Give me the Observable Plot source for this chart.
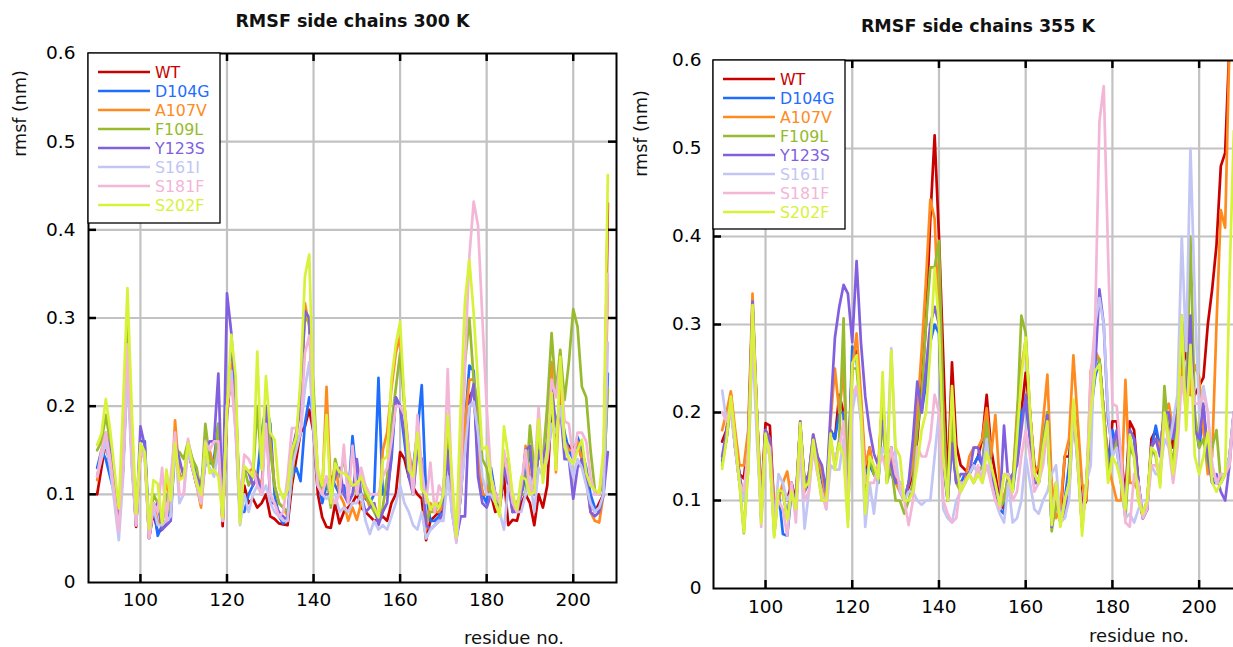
<!DOCTYPE html>
<html><head><meta charset="utf-8">
<script src="https://cdn.jsdelivr.net/npm/d3@7"></script>
<script src="https://cdn.jsdelivr.net/npm/@observablehq/plot@0.6"></script>
<style>
html,body{margin:0;padding:0;background:#fff;overflow:hidden;width:1233px;height:647px;}
#wrap{position:relative;width:1233px;height:647px;overflow:hidden;font-family:"DejaVu Sans",sans-serif;}
#wrap svg{position:absolute;top:0;overflow:visible;}
</style></head><body><div id="wrap"></div>
<script>
const seriesNames = ["WT","D104G","A107V","F109L","Y123S","S161I","S181F","S202F"];
const seriesColors = ["#c90000","#1f6dff","#ff8b1f","#97ba2e","#815fdf","#c3c6f4","#f3b6d7","#d8f23a"];
const firstResidue = 90;
const xTicks = [100,120,140,160,180,200];
const yTicks = [0,0.1,0.2,0.3,0.4,0.5,0.6];
const titles = ["RMSF side chains 300 K","RMSF side chains 355 K"];
const xLabel = "residue no.";
const yLabel = "rmsf (nm)";

// ---------- 300 K (residues 90..208) ----------
const wt300 = [
0.10,0.13,0.16,0.13,0.10,0.07,0.13,0.26,0.14,0.063,
0.15,0.15,0.05,0.08,0.057,0.06,0.07,0.10,0.16,0.12,
0.12,0.15,0.13,0.11,0.10,0.15,0.14,0.14,0.16,0.064,
0.19,0.24,0.18,0.075,0.11,0.09,0.095,0.085,0.09,0.10,
0.075,0.072,0.067,0.066,0.065,0.11,0.14,0.17,0.177,0.196,
0.17,0.10,0.074,0.063,0.062,0.09,0.067,0.08,0.085,0.09,
0.10,0.085,0.08,0.075,0.07,0.071,0.075,0.07,0.09,0.10,
0.148,0.14,0.12,0.108,0.10,0.095,0.048,0.07,0.075,0.08,
0.08,0.18,0.09,0.05,0.10,0.16,0.21,0.22,0.14,0.10,
0.10,0.10,0.08,0.085,0.12,0.065,0.071,0.07,0.09,0.10,
0.09,0.065,0.10,0.085,0.11,0.20,0.15,0.22,0.16,0.155,
0.15,0.16,0.14,0.12,0.09,0.08,0.09,0.10,0.43];
const d104g300 = [
0.13,0.15,0.14,0.12,0.10,0.07,0.15,0.30,0.16,0.065,
0.16,0.16,0.06,0.09,0.053,0.065,0.07,0.09,0.15,0.12,
0.12,0.15,0.14,0.12,0.10,0.135,0.135,0.14,0.18,0.075,
0.20,0.26,0.21,0.08,0.08,0.10,0.11,0.12,0.17,0.20,
0.18,0.10,0.075,0.067,0.075,0.12,0.13,0.115,0.18,0.21,
0.19,0.12,0.09,0.11,0.12,0.11,0.10,0.11,0.095,0.166,
0.115,0.10,0.095,0.09,0.10,0.232,0.10,0.10,0.14,0.21,
0.20,0.16,0.12,0.13,0.17,0.224,0.10,0.07,0.07,0.075,
0.10,0.19,0.10,0.05,0.10,0.18,0.246,0.24,0.15,0.10,
0.09,0.13,0.10,0.09,0.13,0.12,0.08,0.09,0.10,0.12,
0.15,0.10,0.15,0.13,0.15,0.20,0.17,0.20,0.17,0.15,
0.14,0.165,0.15,0.13,0.10,0.085,0.08,0.10,0.237];
const a107v300 = [
0.116,0.15,0.17,0.14,0.10,0.07,0.14,0.29,0.15,0.065,
0.155,0.15,0.05,0.09,0.07,0.065,0.12,0.085,0.184,0.12,
0.12,0.15,0.13,0.11,0.085,0.14,0.15,0.13,0.17,0.07,
0.20,0.25,0.20,0.085,0.13,0.125,0.13,0.12,0.11,0.19,
0.16,0.11,0.09,0.085,0.075,0.12,0.17,0.20,0.317,0.29,
0.20,0.11,0.10,0.222,0.10,0.137,0.10,0.09,0.07,0.085,
0.071,0.09,0.10,0.085,0.09,0.07,0.15,0.17,0.22,0.26,
0.279,0.20,0.15,0.12,0.17,0.13,0.06,0.09,0.08,0.08,
0.09,0.19,0.10,0.05,0.10,0.18,0.23,0.23,0.15,0.10,
0.10,0.12,0.10,0.09,0.13,0.12,0.08,0.09,0.10,0.155,
0.12,0.10,0.15,0.14,0.16,0.25,0.125,0.23,0.16,0.15,
0.15,0.16,0.14,0.12,0.08,0.07,0.068,0.10,0.34];
const f109l300 = [
0.15,0.16,0.19,0.16,0.11,0.07,0.15,0.30,0.16,0.07,
0.15,0.15,0.055,0.10,0.09,0.065,0.10,0.08,0.15,0.148,
0.14,0.16,0.14,0.13,0.10,0.18,0.14,0.13,0.18,0.07,
0.21,0.24,0.19,0.08,0.13,0.11,0.12,0.20,0.13,0.20,
0.15,0.11,0.09,0.085,0.08,0.12,0.16,0.22,0.30,0.295,
0.22,0.12,0.10,0.12,0.085,0.14,0.12,0.14,0.11,0.11,
0.10,0.12,0.10,0.09,0.08,0.07,0.085,0.12,0.18,0.22,
0.26,0.20,0.13,0.10,0.16,0.12,0.07,0.08,0.08,0.09,
0.09,0.19,0.10,0.05,0.13,0.25,0.30,0.23,0.20,0.14,
0.13,0.10,0.10,0.085,0.14,0.14,0.09,0.085,0.10,0.10,
0.178,0.13,0.16,0.14,0.20,0.283,0.215,0.264,0.207,0.25,
0.31,0.29,0.222,0.21,0.15,0.105,0.10,0.113,0.22];
const y123s300 = [
0.12,0.143,0.169,0.15,0.11,0.065,0.13,0.25,0.17,0.065,
0.177,0.155,0.05,0.085,0.09,0.06,0.065,0.07,0.16,0.14,
0.12,0.15,0.13,0.12,0.11,0.15,0.16,0.16,0.237,0.08,
0.328,0.283,0.20,0.08,0.13,0.125,0.11,0.12,0.10,0.20,
0.09,0.09,0.08,0.075,0.07,0.15,0.17,0.20,0.308,0.30,
0.18,0.11,0.10,0.10,0.10,0.12,0.13,0.10,0.09,0.10,
0.14,0.10,0.08,0.085,0.09,0.065,0.08,0.09,0.15,0.21,
0.20,0.17,0.12,0.10,0.15,0.14,0.065,0.06,0.065,0.07,
0.08,0.15,0.08,0.05,0.075,0.075,0.20,0.225,0.12,0.09,
0.085,0.10,0.09,0.085,0.13,0.11,0.08,0.08,0.10,0.15,
0.155,0.10,0.15,0.14,0.16,0.22,0.18,0.20,0.14,0.14,
0.095,0.13,0.14,0.12,0.08,0.075,0.08,0.10,0.148];
const s161i300 = [
0.12,0.14,0.16,0.13,0.09,0.048,0.12,0.24,0.13,0.065,
0.15,0.145,0.05,0.085,0.065,0.065,0.07,0.075,0.16,0.09,
0.10,0.15,0.13,0.11,0.09,0.14,0.13,0.12,0.15,0.07,
0.20,0.24,0.17,0.065,0.10,0.08,0.10,0.11,0.10,0.11,
0.09,0.08,0.075,0.07,0.07,0.13,0.15,0.17,0.22,0.25,
0.17,0.11,0.10,0.095,0.10,0.10,0.08,0.085,0.08,0.09,
0.09,0.10,0.07,0.055,0.07,0.06,0.065,0.06,0.075,0.09,
0.11,0.09,0.08,0.065,0.06,0.08,0.05,0.06,0.065,0.07,
0.07,0.12,0.08,0.045,0.10,0.15,0.20,0.205,0.17,0.12,
0.10,0.10,0.09,0.08,0.06,0.11,0.10,0.08,0.08,0.10,
0.12,0.08,0.13,0.12,0.14,0.18,0.17,0.20,0.16,0.14,
0.12,0.14,0.13,0.11,0.09,0.08,0.085,0.10,0.272];
const s181f300 = [
0.12,0.15,0.17,0.14,0.10,0.058,0.14,0.27,0.15,0.065,
0.15,0.14,0.05,0.09,0.08,0.13,0.07,0.12,0.17,0.10,
0.10,0.163,0.13,0.115,0.09,0.16,0.15,0.16,0.16,0.07,
0.20,0.23,0.17,0.09,0.145,0.14,0.13,0.11,0.10,0.18,
0.10,0.09,0.075,0.08,0.12,0.175,0.175,0.17,0.26,0.28,
0.20,0.11,0.10,0.12,0.10,0.09,0.10,0.156,0.09,0.155,
0.10,0.13,0.11,0.10,0.10,0.10,0.12,0.13,0.16,0.20,
0.20,0.19,0.15,0.10,0.19,0.13,0.09,0.136,0.08,0.11,
0.10,0.242,0.10,0.047,0.12,0.25,0.37,0.432,0.405,0.30,
0.20,0.12,0.10,0.09,0.15,0.12,0.09,0.08,0.11,0.15,
0.10,0.12,0.198,0.12,0.15,0.23,0.21,0.25,0.183,0.18,
0.14,0.17,0.17,0.16,0.12,0.10,0.10,0.14,0.35];
const s202f300 = [
0.156,0.169,0.208,0.173,0.128,0.084,0.203,0.334,0.196,0.078,
0.158,0.148,0.061,0.116,0.112,0.067,0.128,0.093,0.158,0.116,
0.12,0.158,0.135,0.112,0.10,0.158,0.124,0.128,0.12,0.074,
0.196,0.281,0.234,0.067,0.132,0.126,0.12,0.262,0.128,0.234,
0.17,0.162,0.108,0.095,0.105,0.15,0.165,0.23,0.347,0.372,
0.196,0.128,0.11,0.19,0.09,0.135,0.125,0.124,0.12,0.11,
0.112,0.12,0.105,0.095,0.085,0.074,0.139,0.143,0.23,0.27,
0.296,0.203,0.128,0.12,0.17,0.105,0.10,0.083,0.09,0.085,
0.10,0.19,0.12,0.052,0.20,0.32,0.366,0.305,0.226,0.151,
0.154,0.12,0.09,0.075,0.177,0.143,0.10,0.083,0.12,0.117,
0.10,0.102,0.185,0.113,0.15,0.215,0.128,0.256,0.154,0.14,
0.135,0.15,0.162,0.124,0.11,0.105,0.102,0.151,0.462];

// ---------- 355 K (residues 90..208) ----------
const wt355 = [
0.167,0.18,0.22,0.17,0.13,0.125,0.17,0.32,0.20,0.10,
0.188,0.185,0.09,0.11,0.11,0.10,0.12,0.10,0.185,0.12,
0.13,0.17,0.14,0.13,0.10,0.18,0.17,0.22,0.20,0.12,
0.26,0.27,0.21,0.13,0.16,0.13,0.13,0.22,0.13,0.16,
0.125,0.11,0.10,0.115,0.13,0.17,0.23,0.30,0.42,0.515,
0.40,0.26,0.115,0.257,0.163,0.14,0.135,0.13,0.14,0.15,
0.17,0.22,0.16,0.13,0.10,0.09,0.13,0.12,0.16,0.20,
0.245,0.20,0.14,0.13,0.16,0.20,0.08,0.10,0.08,0.15,
0.15,0.20,0.18,0.09,0.10,0.22,0.26,0.26,0.20,0.14,
0.19,0.19,0.15,0.105,0.19,0.18,0.12,0.08,0.09,0.17,
0.18,0.16,0.20,0.20,0.16,0.20,0.25,0.27,0.22,0.22,
0.23,0.24,0.30,0.34,0.39,0.48,0.495,0.62,0.70];
const d104g355 = [
0.145,0.17,0.21,0.16,0.12,0.10,0.15,0.30,0.19,0.08,
0.18,0.165,0.075,0.11,0.062,0.06,0.11,0.10,0.185,0.11,
0.12,0.17,0.14,0.12,0.10,0.18,0.17,0.20,0.20,0.12,
0.275,0.26,0.20,0.13,0.14,0.13,0.12,0.20,0.13,0.13,
0.12,0.12,0.10,0.12,0.14,0.20,0.20,0.233,0.28,0.30,
0.29,0.14,0.10,0.165,0.12,0.12,0.13,0.13,0.14,0.15,
0.14,0.19,0.13,0.11,0.09,0.085,0.13,0.11,0.15,0.20,
0.21,0.17,0.12,0.12,0.16,0.19,0.07,0.10,0.075,0.10,
0.14,0.20,0.15,0.08,0.12,0.20,0.24,0.26,0.20,0.14,
0.18,0.16,0.12,0.09,0.18,0.17,0.12,0.08,0.09,0.16,
0.185,0.16,0.19,0.20,0.17,0.20,0.28,0.20,0.27,0.19,
0.16,0.20,0.16,0.12,0.12,0.12,0.13,0.15,0.20];
const a107v355 = [
0.18,0.20,0.224,0.18,0.14,0.14,0.18,0.335,0.20,0.10,
0.18,0.17,0.09,0.10,0.12,0.133,0.10,0.10,0.19,0.11,
0.13,0.175,0.15,0.13,0.10,0.19,0.25,0.20,0.25,0.12,
0.25,0.29,0.22,0.14,0.16,0.13,0.14,0.22,0.14,0.15,
0.12,0.11,0.10,0.12,0.14,0.20,0.27,0.35,0.442,0.42,
0.30,0.20,0.10,0.20,0.12,0.12,0.12,0.15,0.16,0.16,
0.17,0.205,0.15,0.197,0.12,0.10,0.13,0.12,0.20,0.25,
0.283,0.20,0.13,0.14,0.19,0.243,0.12,0.08,0.09,0.15,
0.17,0.265,0.19,0.12,0.10,0.247,0.27,0.26,0.20,0.14,
0.12,0.10,0.10,0.237,0.12,0.12,0.11,0.08,0.10,0.16,
0.17,0.16,0.20,0.21,0.18,0.20,0.24,0.30,0.22,0.254,
0.24,0.18,0.13,0.15,0.30,0.43,0.41,0.62,0.66];
const f109l355 = [
0.14,0.17,0.21,0.16,0.12,0.063,0.14,0.31,0.20,0.08,
0.17,0.15,0.06,0.11,0.11,0.08,0.11,0.09,0.18,0.12,
0.12,0.17,0.135,0.10,0.10,0.17,0.14,0.17,0.307,0.08,
0.25,0.25,0.20,0.10,0.15,0.13,0.12,0.20,0.12,0.14,
0.10,0.10,0.085,0.10,0.12,0.18,0.22,0.30,0.365,0.365,
0.395,0.20,0.10,0.19,0.12,0.11,0.12,0.13,0.12,0.13,
0.14,0.19,0.13,0.11,0.09,0.10,0.13,0.12,0.19,0.31,
0.29,0.20,0.13,0.12,0.17,0.20,0.065,0.10,0.075,0.09,
0.12,0.20,0.14,0.07,0.12,0.21,0.26,0.26,0.20,0.13,
0.15,0.17,0.12,0.08,0.16,0.15,0.10,0.085,0.10,0.16,
0.15,0.12,0.23,0.17,0.14,0.20,0.30,0.20,0.40,0.20,
0.16,0.17,0.14,0.16,0.18,0.12,0.13,0.15,0.20];
const y123s355 = [
0.15,0.18,0.21,0.16,0.13,0.10,0.16,0.326,0.20,0.085,
0.18,0.17,0.07,0.11,0.11,0.08,0.12,0.09,0.19,0.12,
0.13,0.175,0.15,0.14,0.11,0.20,0.285,0.32,0.345,0.335,
0.28,0.372,0.28,0.218,0.18,0.153,0.14,0.19,0.16,0.14,
0.12,0.12,0.10,0.12,0.17,0.235,0.20,0.25,0.30,0.32,
0.30,0.15,0.10,0.165,0.12,0.13,0.13,0.13,0.16,0.16,
0.14,0.17,0.13,0.11,0.09,0.185,0.12,0.13,0.14,0.18,
0.22,0.17,0.12,0.12,0.16,0.197,0.07,0.12,0.08,0.08,
0.11,0.20,0.15,0.07,0.12,0.20,0.25,0.34,0.30,0.19,
0.16,0.18,0.14,0.09,0.18,0.17,0.12,0.08,0.09,0.16,
0.17,0.15,0.20,0.20,0.17,0.20,0.31,0.20,0.31,0.18,
0.17,0.21,0.15,0.12,0.13,0.11,0.10,0.14,0.20];
const s161i355 = [
0.225,0.19,0.20,0.16,0.12,0.10,0.13,0.28,0.17,0.085,
0.17,0.15,0.07,0.13,0.12,0.10,0.11,0.09,0.16,0.068,
0.11,0.16,0.13,0.11,0.09,0.14,0.135,0.135,0.17,0.09,
0.20,0.23,0.19,0.07,0.12,0.085,0.13,0.16,0.15,0.273,
0.15,0.11,0.10,0.11,0.11,0.10,0.095,0.10,0.10,0.15,
0.20,0.09,0.08,0.075,0.10,0.11,0.12,0.13,0.14,0.13,
0.13,0.17,0.12,0.10,0.085,0.075,0.12,0.075,0.08,0.10,
0.15,0.12,0.09,0.085,0.10,0.11,0.13,0.14,0.075,0.08,
0.10,0.20,0.15,0.07,0.12,0.14,0.30,0.33,0.30,0.20,
0.15,0.16,0.12,0.08,0.085,0.075,0.09,0.10,0.10,0.14,
0.13,0.13,0.17,0.16,0.19,0.22,0.40,0.27,0.50,0.33,
0.20,0.23,0.20,0.14,0.12,0.12,0.13,0.15,0.20];
const s181f355 = [
0.20,0.19,0.21,0.16,0.12,0.11,0.16,0.30,0.19,0.07,
0.17,0.16,0.075,0.10,0.09,0.06,0.12,0.075,0.17,0.10,
0.11,0.16,0.13,0.11,0.09,0.16,0.15,0.16,0.19,0.077,
0.22,0.23,0.20,0.12,0.12,0.12,0.14,0.15,0.13,0.16,
0.13,0.12,0.10,0.072,0.10,0.161,0.15,0.15,0.17,0.22,
0.20,0.10,0.085,0.075,0.08,0.12,0.12,0.13,0.12,0.14,
0.12,0.14,0.12,0.10,0.09,0.13,0.13,0.10,0.11,0.15,
0.18,0.15,0.11,0.12,0.14,0.18,0.09,0.11,0.075,0.10,
0.12,0.21,0.14,0.08,0.12,0.24,0.30,0.53,0.571,0.38,
0.21,0.207,0.15,0.075,0.07,0.13,0.12,0.08,0.09,0.14,
0.14,0.13,0.20,0.16,0.12,0.16,0.24,0.20,0.26,0.21,
0.21,0.22,0.20,0.14,0.12,0.13,0.13,0.14,0.20];
const s202f355 = [
0.136,0.17,0.218,0.17,0.12,0.064,0.135,0.322,0.20,0.074,
0.176,0.15,0.058,0.112,0.11,0.078,0.11,0.09,0.188,0.115,
0.12,0.169,0.135,0.10,0.10,0.176,0.135,0.165,0.15,0.07,
0.256,0.265,0.20,0.085,0.15,0.14,0.125,0.246,0.12,0.27,
0.16,0.15,0.10,0.10,0.11,0.14,0.18,0.20,0.27,0.364,
0.30,0.15,0.10,0.23,0.14,0.11,0.12,0.13,0.12,0.13,
0.12,0.155,0.14,0.12,0.095,0.13,0.125,0.11,0.17,0.24,
0.285,0.20,0.13,0.12,0.16,0.19,0.072,0.12,0.07,0.10,
0.12,0.215,0.15,0.06,0.12,0.20,0.247,0.255,0.19,0.12,
0.15,0.14,0.12,0.09,0.175,0.15,0.10,0.085,0.10,0.16,
0.155,0.115,0.20,0.17,0.13,0.18,0.31,0.18,0.277,0.15,
0.13,0.15,0.178,0.121,0.11,0.12,0.13,0.35,0.52];

const arrays300 = [wt300,d104g300,a107v300,f109l300,y123s300,s161i300,s181f300,s202f300];
const arrays355 = [wt355,d104g355,a107v355,f109l355,y123s355,s161i355,s181f355,s202f355];

function tidy(arrays){
  const rows = [];
  seriesNames.forEach((name,k) => arrays[k].forEach((v,i) => rows.push({residue: firstResidue + i, rmsf: v, series: name})));
  return rows;
}

const FONT = '"DejaVu Sans", sans-serif';
const H = 647;

function panel(cfg){
  const {arrays, title, width, left, marginLeft, marginRight, marginTop, marginBottom,
         titleDy, yLabelDx, yLabelDy, xLabelDx, xLabelDy, xPad, yPad, legendH} = cfg;
  const fw = width - marginLeft - marginRight;
  const fh = H - marginTop - marginBottom;
  const inner = yTicks.slice(1, -1);
  const data = tidy(arrays);
  const tickStyle = {stroke: "#000", strokeWidth: 2.5};
  const svg = Plot.plot({
    width, height: H, marginLeft, marginRight, marginTop, marginBottom,
    style: {fontFamily: FONT, color: "#000", background: "transparent", overflow: "visible"},
    x: {domain: [88, 210]},
    y: {domain: [0, 0.6]},
    color: {domain: seriesNames, range: seriesColors},
    marks: [
      Plot.ruleX(xTicks, {x: d => d, stroke: "#c2c2c2", strokeWidth: 2.2}),
      Plot.ruleY(inner, {y: d => d, stroke: "#c2c2c2", strokeWidth: 2.2}),
      Plot.lineY(data, {x: "residue", y: "rmsf", z: "series", stroke: "series", strokeWidth: 2.7, clip: true}),
      Plot.tickX(xTicks, {x: d => d, insetTop: fh - 8, ...tickStyle}),
      Plot.tickX(xTicks, {x: d => d, insetBottom: fh - 8, ...tickStyle}),
      Plot.tickY(inner, {y: d => d, insetRight: fw - 8, ...tickStyle}),
      Plot.tickY(inner, {y: d => d, insetLeft: fw - 8, ...tickStyle}),
      Plot.frame({stroke: "#000", strokeWidth: 2}),
      Plot.axisX(xTicks, {tickSize: 0, tickPadding: xPad, fontSize: 18.5, label: null, tickFormat: d => String(d)}),
      Plot.axisY(yTicks, {tickSize: 0, tickPadding: yPad, fontSize: 18.5, label: null, tickFormat: d => d === 0 ? "0" : d.toFixed(1)}),
      Plot.text([title], {text: d => d, frameAnchor: "top", dy: titleDy, textAnchor: "middle", lineAnchor: "middle", fontWeight: "bold", fontSize: 17.5, fill: "#111"}),
      Plot.text([yLabel], {text: d => d, frameAnchor: "top-left", dx: yLabelDx, dy: yLabelDy, textAnchor: "middle", lineAnchor: "middle", rotate: -90, fontSize: 17.5, fill: "#111"}),
      Plot.text([xLabel], {text: d => d, frameAnchor: "bottom-left", dx: xLabelDx, dy: xLabelDy, textAnchor: "middle", lineAnchor: "middle", fontSize: 18, fill: "#111"})
    ]
  });
  svg.style.left = left + "px";
  // legend box in the top-left corner of the frame
  const g = d3.select(svg).append("g").attr("font-family", FONT).attr("font-size", 15.8).attr("text-anchor", "start");
  g.append("rect").attr("x", marginLeft).attr("y", marginTop).attr("width", 132).attr("height", legendH)
    .attr("fill", "#fff").attr("stroke", "#000").attr("stroke-width", 1.3);
  seriesNames.forEach((name, k) => {
    const yy = marginTop + 19 + k * 19;
    g.append("line").attr("x1", marginLeft + 10).attr("x2", marginLeft + 62).attr("y1", yy).attr("y2", yy)
      .attr("stroke", seriesColors[k]).attr("stroke-width", 2.6);
    g.append("text").attr("x", marginLeft + 67).attr("y", yy).attr("dy", "0.36em")
      .attr("text-anchor", "start").attr("fill", seriesColors[k]).text(name);
  });
  return svg;
}

const wrap = document.getElementById("wrap");
wrap.appendChild(panel({
  arrays: arrays300, title: titles[0], width: 620, left: 0,
  marginLeft: 88, marginRight: 4, marginTop: 53, marginBottom: 65,
  titleDy: -32, yLabelDx: -68, yLabelDy: 60, xLabelDx: 425.5, xLabelDy: 56,
  xPad: 10, yPad: 13, legendH: 170
}));
wrap.appendChild(panel({
  arrays: arrays355, title: titles[1], width: 624, left: 620,
  marginLeft: 93, marginRight: 2, marginTop: 60, marginBottom: 59,
  titleDy: -34, yLabelDx: -72, yLabelDy: 73, xLabelDx: 425.5, xLabelDy: 48,
  xPad: 11, yPad: 12, legendH: 169
}));
</script>
</body></html>
